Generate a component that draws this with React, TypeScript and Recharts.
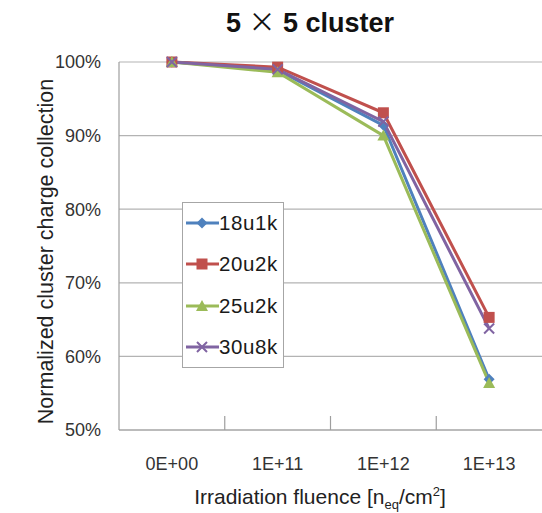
import React from 'react';
import { LineChart, Line, XAxis, YAxis, CartesianGrid, Legend, ReferenceLine } from 'recharts';

// Fluence categories and normalized charge collection (%) per sensor type
const fluenceLabels = ['0E+00', '1E+11', '1E+12', '1E+13'];
const s18u1k = [100, 98.9, 91.4, 56.9];
const s20u2k = [100, 99.3, 93.1, 65.3];
const s25u2k = [100, 98.6, 90.0, 56.4];
const s30u8k = [100, 99.0, 91.9, 63.8];
const yTicks = [50, 60, 70, 80, 90, 100];
const boundaryTicks = [1, 2, 3];

const data = fluenceLabels.map((label, i) => ({
  pos: i + 0.5,
  label,
  s18u1k: s18u1k[i],
  s20u2k: s20u2k[i],
  s25u2k: s25u2k[i],
  s30u8k: s30u8k[i],
}));

const FONT = '"Liberation Sans", Arial, sans-serif';
const CJK = '"Noto Sans CJK JP", "Noto Sans CJK SC", sans-serif';

type MarkerKind = 'diamond' | 'square' | 'triangle' | 'cross';

const series: { key: string; name: string; color: string; marker: MarkerKind }[] = [
  { key: 's18u1k', name: '18u1k', color: '#4f81bd', marker: 'diamond' },
  { key: 's20u2k', name: '20u2k', color: '#c0504d', marker: 'square' },
  { key: 's25u2k', name: '25u2k', color: '#9bbb59', marker: 'triangle' },
  { key: 's30u8k', name: '30u8k', color: '#8064a2', marker: 'cross' },
];

function markerShape(kind: MarkerKind, cx: number, cy: number, color: string, k: string) {
  switch (kind) {
    case 'diamond':
      return <path key={k} d={`M${cx},${cy - 5.5}L${cx + 5.5},${cy}L${cx},${cy + 5.5}L${cx - 5.5},${cy}Z`} fill={color} />;
    case 'square':
      return <rect key={k} x={cx - 5.5} y={cy - 5.5} width={11} height={11} fill={color} />;
    case 'triangle':
      return <path key={k} d={`M${cx},${cy - 6}L${cx + 6},${cy + 5}L${cx - 6},${cy + 5}Z`} fill={color} />;
    default:
      return (
        <path
          key={k}
          d={`M${cx - 5},${cy - 5}L${cx + 5},${cy + 5}M${cx - 5},${cy + 5}L${cx + 5},${cy - 5}`}
          stroke={color}
          strokeWidth={2}
          fill="none"
        />
      );
  }
}

function makeDot(kind: MarkerKind, color: string) {
  return (props: any) => {
    const { cx, cy, index } = props;
    if (cx == null || cy == null) return <g key={`d-${index}`} />;
    return markerShape(kind, cx, cy, color, `${kind}-${index}`);
  };
}

function LegendBox() {
  return (
    <div
      style={{
        position: 'relative',
        width: 100,
        height: 164,
        border: '1px solid #a6a6a6',
        background: '#fff',
        boxSizing: 'content-box',
      }}
    >
      {series.map((s, i) => (
        <div
          key={s.key}
          style={{ position: 'absolute', left: 0, top: 7 + i * 41.3, height: 26, display: 'flex', alignItems: 'center' }}
        >
          <svg width={36} height={26} style={{ display: 'block' }}>
            <line x1={3} y1={13} x2={36} y2={13} stroke={s.color} strokeWidth={3} />
            {markerShape(s.marker, 19, 13, s.color, `lg-${i}`)}
          </svg>
          <span style={{ fontFamily: FONT, fontSize: 20.5, letterSpacing: 0.6, color: '#1a1a1a', marginLeft: 0 }}>{s.name}</span>
        </div>
      ))}
    </div>
  );
}

export default function App() {
  return (
    <div style={{ position: 'absolute', left: 0, top: 0, width: 542, height: 513, background: '#fff' }}>
      <LineChart width={542} height={513} data={data} margin={{ top: 62, right: 0, left: 49, bottom: 43 }}>
        <CartesianGrid vertical={false} stroke="#b3b3b3" strokeWidth={1.2} />
        <XAxis
          dataKey="pos"
          type="number"
          domain={[0, 4]}
          ticks={data.map((d) => d.pos)}
          tickFormatter={(v: number) => fluenceLabels[Math.floor(v)]}
          tickLine={false}
          axisLine={{ stroke: '#9e9e9e', strokeWidth: 1.2 }}
          tick={{ fontFamily: FONT, fontSize: 18, fill: '#333' }}
          tickMargin={21}
          height={40}
        />
        <YAxis
          type="number"
          domain={[50, 100]}
          ticks={yTicks}
          tickFormatter={(v: number) => `${v}%`}
          tickLine={false}
          axisLine={{ stroke: '#9e9e9e', strokeWidth: 1.2 }}
          tick={{ fontFamily: FONT, fontSize: 18, fill: '#333' }}
          tickMargin={12}
          width={70}
        />
        {boundaryTicks.map((b) => (
          <ReferenceLine
            key={b}
            segment={[{ x: b, y: 50 }, { x: b, y: 51.9 }]}
            stroke="#9e9e9e"
            strokeWidth={1.2}
            ifOverflow="visible"
          />
        ))}
        <Legend
          layout="vertical"
          align="center"
          verticalAlign="middle"
          content={() => <LegendBox />}
          wrapperStyle={{ left: 182, top: 202, width: 102, height: 166 }}
        />
        {series.map((s) => (
          <Line
            key={s.key}
            dataKey={s.key}
            name={s.name}
            stroke={s.color}
            strokeWidth={3}
            dot={makeDot(s.marker, s.color)}
            activeDot={false}
            isAnimationActive={false}
          />
        ))}
      </LineChart>
      {/* Chart title and axis titles */}
      <svg
        width={542}
        height={513}
        style={{ position: 'absolute', left: 0, top: 0, pointerEvents: 'none' }}
      >
        <text x={310} y={32} textAnchor="middle" fontFamily={FONT} fontWeight="bold" fontSize={27} fill="#111">
          5 <tspan fontFamily={CJK} fontWeight="normal">×</tspan> 5 cluster
        </text>
        <text x={320} y={504} textAnchor="middle" fontFamily={FONT} fontSize={21} fill="#222">
          Irradiation fluence [n
          <tspan fontSize={13} dy={5}>eq</tspan>
          <tspan dy={-5}>/cm</tspan>
          <tspan fontSize={13} dy={-8}>2</tspan>
          <tspan dy={8}>]</tspan>
        </text>
        <text
          transform="translate(53, 251.5) rotate(-90)"
          x={0}
          y={0}
          textAnchor="middle"
          fontFamily={FONT}
          fontSize={21.5}
          fill="#222"
        >
          Normalized cluster charge collection
        </text>
      </svg>
    </div>
  );
}
